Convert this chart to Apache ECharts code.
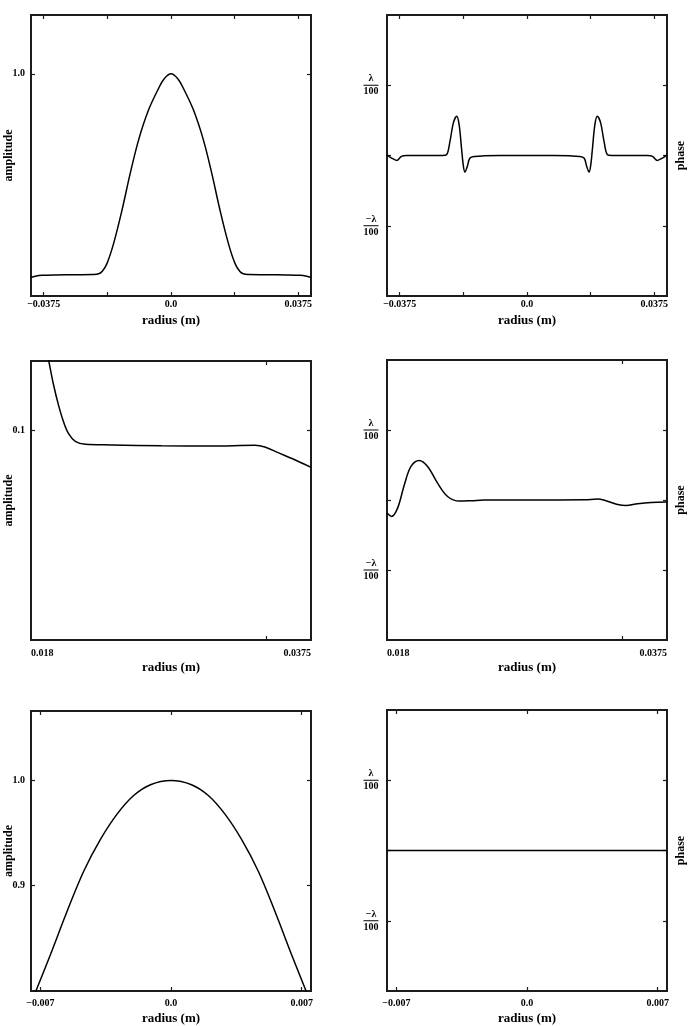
<!DOCTYPE html>
<html><head><meta charset="utf-8">
<script src="https://cdn.jsdelivr.net/npm/echarts@6/dist/echarts.min.js"></script>
<style>html,body{margin:0;padding:0;background:#fff}#c{width:689px;height:1026px}</style>
</head><body><div id="c"></div>
<script>
// ---------- data ----------
// Row 1: full aperture
const radiusWide = [-0.04125,-0.0400,-0.0380,-0.0340,-0.0280,-0.0230,-0.0215,-0.0203,-0.01885,-0.0169,-0.01443,-0.0120,-0.00954,-0.0066,-0.00365,-0.0020,0,0.0020,0.00365,0.0066,0.00954,0.0120,0.01443,0.0169,0.01885,0.0203,0.0215,0.0230,0.0280,0.0340,0.0380,0.0400,0.04125];
const ampWide    = [0.084,0.089,0.093,0.095,0.096,0.097,0.099,0.110,0.147,0.237,0.387,0.553,0.703,0.838,0.935,0.978,1.0,0.978,0.935,0.838,0.703,0.553,0.387,0.237,0.147,0.110,0.099,0.097,0.096,0.095,0.093,0.089,0.084];
const radiusPhaseWide = [-0.04125,-0.0399,-0.0384,-0.0370,-0.0355,-0.0300,-0.0250,-0.0237,-0.0227,-0.0217,-0.0207,-0.0200,-0.0193,-0.0188,-0.0183,-0.0176,-0.0168,-0.0153,-0.0126,-0.0080,0,0.0080,0.0126,0.0153,0.0168,0.0176,0.0183,0.0188,0.0193,0.0200,0.0207,0.0217,0.0227,0.0237,0.0250,0.0300,0.0355,0.0370,0.0384,0.0399,0.04125];
// phase in units of lambda/100
const phaseWide = [0.01,-0.036,-0.07,-0.013,0,0,0,0.01,0.2,0.465,0.56,0.44,0.107,-0.13,-0.237,-0.156,-0.036,-0.013,-0.005,0,0,0,-0.005,-0.013,-0.036,-0.156,-0.237,-0.13,0.107,0.44,0.56,0.465,0.2,0.01,0,0,0,-0.013,-0.07,-0.036,0.01];

// Row 2: edge zoom
const radiusEdge = [0.01917,0.019466,0.01988,0.02029,0.02071,0.02112,0.02168,0.02251,0.02471,0.02885,0.03299,0.03659,0.03742,0.03852,0.0399,0.04125];
const ampEdge    = [0.142,0.1336,0.1217,0.1121,0.1041,0.0986,0.0949,0.0935,0.0932,0.0928,0.0927,0.0930,0.0922,0.0895,0.0861,0.0825];
const radiusPhaseEdge = [0.018,0.01838,0.01888,0.01944,0.01999,0.02068,0.02137,0.0222,0.02303,0.0240,0.0250,0.02608,0.0300,0.03438,0.03549,0.03618,0.03715,0.03784,0.03881,0.03992,0.04125];
const phaseEdge = [-0.187,-0.235,-0.116,0.217,0.479,0.565,0.479,0.241,0.05,-0.016,-0.01,0,0,0.002,0.013,-0.011,-0.064,-0.079,-0.054,-0.036,-0.03];

// Row 3: centre zoom
const radiusCentre = [-0.0075,-0.00722,-0.00645,-0.00556,-0.00467,-0.00378,-0.00289,-0.002,-0.0011,0,0.0011,0.002,0.00289,0.00378,0.00467,0.00556,0.00645,0.00722,0.0075];
const ampCentre    = [0.788,0.8007,0.835,0.876,0.914,0.944,0.968,0.9857,0.996,1.0,0.996,0.9857,0.968,0.944,0.914,0.876,0.835,0.8007,0.788];
const radiusPhaseCentre = [-0.0075,0,0.0075];
const phaseCentre = [0,0,0];

// ticks and tick labels
const wideTicks = [-0.0375,-0.01875,0,0.01875,0.0375];
const wideLabelVals = [-0.0375,0,0.0375];
const wideLabels = ['\u22120.0375','0.0','0.0375'];
const edgeTicks = [0.0375];
const edgeLabelVals = [0.018,0.04125];
const edgeLabels = ['0.018','0.0375'];
const centreTicks = [-0.007,0,0.007];
const centreLabels = ['\u22120.007','0.0','0.007'];
const ampWideTicks = [1.0], ampWideLabels = ['1.0'];
const ampEdgeTicks = [0.1], ampEdgeLabels = ['0.1'];
const ampCentreTicks = [0.9,1.0], ampCentreLabels = ['0.9','1.0'];
const phaseTicks = [-1,0,1], phaseLabelVals = [-1,1];

// ---------- styling ----------
const FONT = 'Liberation Serif';
const FRAME = '#1c1c1c';
const TXT = '#000';

function pick(vals, texts){
  return v => { const i = vals.findIndex(t => Math.abs(t - v) < 1e-9); return i >= 0 ? texts[i] : ''; };
}
const grids = [], xAxis = [], yAxis = [], series = [];
function panel(rect, xr, yr, xTicks, xLabVals, xLabTexts, lab, yCfg, xs, ys){
  const gi = grids.length;
  grids.push({left:rect[0], top:rect[1], width:rect[2], height:rect[3], show:true, borderWidth:2, borderColor:FRAME, outerBoundsMode:'none', containLabel:false});
  const tick = {show:true, inside:true, length:4, lineStyle:{color:FRAME, width:1.2}};
  const noLine = {show:false, onZero:false};
  const xb = {type:'value', gridIndex:gi, min:xr[0], max:xr[1], splitLine:{show:false}, axisLine:noLine, nameMoveOverlap:false};
  const xBotIdx = xAxis.length;
  xAxis.push(Object.assign({}, xb, {position:'bottom', name:'radius (m)', nameLocation:'middle', nameGap:lab.nameGap,
    nameTextStyle:{fontFamily:FONT, fontWeight:'bold', fontSize:13, color:TXT},
    axisTick:Object.assign({customValues:xTicks}, tick),
    axisLabel:{show:true, customValues:xLabVals, formatter:pick(xLabVals, xLabTexts), margin:lab.margin,
      fontFamily:FONT, fontWeight:'bold', fontSize:10, color:TXT, alignMinLabel:lab.alignEnds?'left':null, alignMaxLabel:lab.alignEnds?'right':null}}));
  xAxis.push(Object.assign({}, xb, {position:'top', axisTick:Object.assign({customValues:xTicks}, tick), axisLabel:{show:false}}));
  const yb = {type:'value', gridIndex:gi, min:yr[0], max:yr[1], splitLine:{show:false}, axisLine:noLine, nameMoveOverlap:false};
  const yLeftIdx = yAxis.length;
  if (yCfg.kind === 'amp') {
    yAxis.push(Object.assign({}, yb, {position:'left', name:'amplitude', nameLocation:'middle', nameRotate:90, nameGap:16,
      nameTextStyle:{fontFamily:FONT, fontWeight:'bold', fontSize:12, color:TXT},
      axisTick:Object.assign({customValues:yCfg.ticks}, tick),
      axisLabel:{show:true, customValues:yCfg.ticks, formatter:pick(yCfg.ticks, yCfg.labels), align:'left', margin:18.5,
        fontFamily:FONT, fontWeight:'bold', fontSize:10, color:TXT}}));
    yAxis.push(Object.assign({}, yb, {position:'right', axisTick:Object.assign({customValues:yCfg.ticks}, tick), axisLabel:{show:false}}));
  } else {
    yAxis.push(Object.assign({}, yb, {position:'left',
      axisTick:Object.assign({customValues:phaseTicks}, tick),
      axisLabel:{show:true, customValues:phaseLabelVals, align:'center', margin:16,
        formatter: v => v > 0 ? '{n|\u03bb}\n{b| }\n{d|100}' : '{n|\u2212\u03bb}\n{b| }\n{d|100}',
        rich:{
          n:{fontFamily:FONT, fontWeight:'bold', fontSize:10, lineHeight:10, color:TXT, align:'center'},
          b:{width:15, height:1, lineHeight:3, fontSize:1, backgroundColor:'#000', align:'center'},
          d:{fontFamily:FONT, fontWeight:'bold', fontSize:10, lineHeight:10, color:TXT, align:'center'}
        }}}));
    yAxis.push(Object.assign({}, yb, {position:'right', name:'phase', nameLocation:'middle', nameRotate:90, nameGap:8,
      nameTextStyle:{fontFamily:FONT, fontWeight:'bold', fontSize:12, color:TXT},
      axisTick:Object.assign({customValues:phaseTicks}, tick), axisLabel:{show:false}}));
  }
  series.push({type:'line', xAxisIndex:xBotIdx, yAxisIndex:yLeftIdx, showSymbol:false, smooth:0.35, clip:true,
    lineStyle:{color:'#000', width:1.5}, data: xs.map((x,i)=>[x, ys[i]]), animation:false});
}
const rowTop = {margin:3, nameGap:18, alignEnds:false};
const rowMid = {margin:8, nameGap:21, alignEnds:true};
const rowBot = {margin:7, nameGap:21, alignEnds:false};

panel([31,15,280,281], [-0.04125,0.04125], [0,1.265], wideTicks, wideLabelVals, wideLabels, rowTop, {kind:'amp', ticks:ampWideTicks, labels:ampWideLabels}, radiusWide, ampWide);
panel([387,15,280,281], [-0.04125,0.04125], [-2,2], wideTicks, wideLabelVals, wideLabels, rowTop, {kind:'phase'}, radiusPhaseWide, phaseWide);
panel([31,361,280,279], [0.018,0.04125], [0,0.1333], edgeTicks, edgeLabelVals, edgeLabels, rowMid, {kind:'amp', ticks:ampEdgeTicks, labels:ampEdgeLabels}, radiusEdge, ampEdge);
panel([387,360,280,280], [0.018,0.04125], [-2,2], edgeTicks, edgeLabelVals, edgeLabels, rowMid, {kind:'phase'}, radiusPhaseEdge, phaseEdge);
panel([31,711,280,280], [-0.0075,0.0075], [0.8,1.066], centreTicks, centreTicks, centreLabels, rowBot, {kind:'amp', ticks:ampCentreTicks, labels:ampCentreLabels}, radiusCentre, ampCentre);
panel([387,710,280,281], [-0.0075,0.0075], [-2,2], centreTicks, centreTicks, centreLabels, rowBot, {kind:'phase'}, radiusPhaseCentre, phaseCentre);

const chart = echarts.init(document.getElementById('c'), null, {renderer:'canvas'});
chart.setOption({animation:false, backgroundColor:'#fff', grid:grids, xAxis:xAxis, yAxis:yAxis, series:series});
</script></body></html>
